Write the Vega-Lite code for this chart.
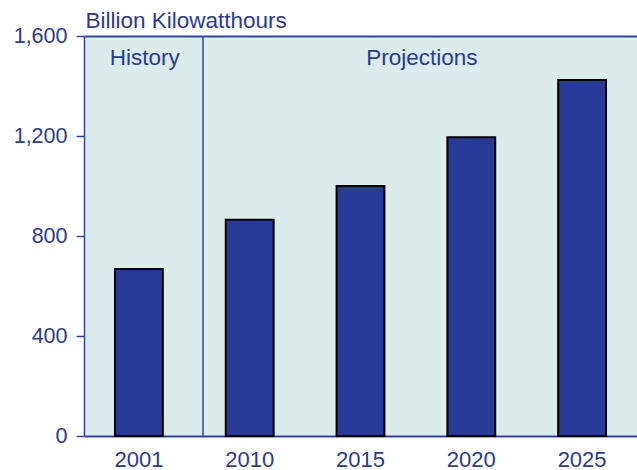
{
  "$schema": "https://vega.github.io/schema/vega-lite/v6.json",
  "width": 553,
  "height": 400,
  "autosize": "none",
  "padding": {"left": 84, "top": 36, "right": 0, "bottom": 34},
  "background": "white",
  "config": {
    "view": {"stroke": null, "fill": "#dcecec"},
    "font": "Liberation Sans"
  },
  "layer": [
    {
      "data": {"values": [
        {"year": "2001", "value": 668},
        {"year": "2010", "value": 865},
        {"year": "2015", "value": 1000},
        {"year": "2020", "value": 1195},
        {"year": "2025", "value": 1424}
      ]},
      "mark": {"type": "bar", "fill": "#263a96", "stroke": "#000000", "strokeWidth": 2},
      "encoding": {
        "x": {
          "field": "year", "type": "nominal",
          "scale": {"paddingInner": 0.568, "paddingOuter": 0.2795},
          "axis": {
            "orient": "bottom", "title": null, "ticks": false, "labelAngle": 0,
            "labelPadding": 13, "labelFontSize": 22, "labelColor": "#2b3a94",
            "domainColor": "#34449e", "domainWidth": 2
          }
        },
        "y": {
          "field": "value", "type": "quantitative",
          "scale": {"domain": [0, 1600], "nice": false},
          "axis": {
            "values": [0, 400, 800, 1200, 1600], "format": ",.0f", "grid": false,
            "title": "Billion Kilowatthours", "titleAngle": 0, "titleAlign": "left",
            "titleBaseline": "alphabetic", "titleX": 1, "titleY": -9,
            "titleFontSize": 22.5, "titleFontWeight": "normal", "titleColor": "#2b3a94",
            "labelFontSize": 21.5, "labelColor": "#2b3a94", "labelPadding": 9,
            "tickSize": 8, "tickColor": "#34449e", "tickWidth": 1.5,
            "domainColor": "#34449e", "domainWidth": 1.5
          }
        }
      }
    },
    {
      "layer": [
        {
          "data": {"values": [{"pos": 0.2152}]},
          "mark": {"type": "rule", "color": "#34449e", "strokeWidth": 1.5},
          "encoding": {
            "x": {
              "field": "pos", "type": "quantitative",
              "scale": {"domain": [0, 1], "nice": false, "zero": false},
              "axis": {"orient": "top", "title": null, "labels": false, "ticks": false, "grid": false, "domainColor": "#34449e", "domainWidth": 2}
            }
          }
        },
        {
          "data": {"values": [
            {"pos": 0.11, "ypos": 1484, "label": "History"},
            {"pos": 0.611, "ypos": 1484, "label": "Projections"}
          ]},
          "mark": {"type": "text", "fontSize": 22.5, "color": "#2b3a94", "align": "center", "baseline": "alphabetic"},
          "encoding": {
            "x": {"field": "pos", "type": "quantitative"},
            "y": {
              "field": "ypos", "type": "quantitative",
              "scale": {"domain": [0, 1600], "nice": false},
              "axis": {
                "values": [0, 400, 800, 1200, 1600], "format": ",.0f", "grid": false,
                "title": "Billion Kilowatthours", "titleAngle": 0, "titleAlign": "left",
                "titleBaseline": "alphabetic", "titleX": 1, "titleY": -9,
                "titleFontSize": 22.5, "titleFontWeight": "normal", "titleColor": "#2b3a94",
                "labelFontSize": 21.5, "labelColor": "#2b3a94", "labelPadding": 9,
                "tickSize": 8, "tickColor": "#34449e", "tickWidth": 1.5,
                "domainColor": "#34449e", "domainWidth": 1.5
              }
            },
            "text": {"field": "label"}
          }
        }
      ]
    }
  ],
  "resolve": {"scale": {"x": "independent"}, "axis": {"x": "independent"}}
}
